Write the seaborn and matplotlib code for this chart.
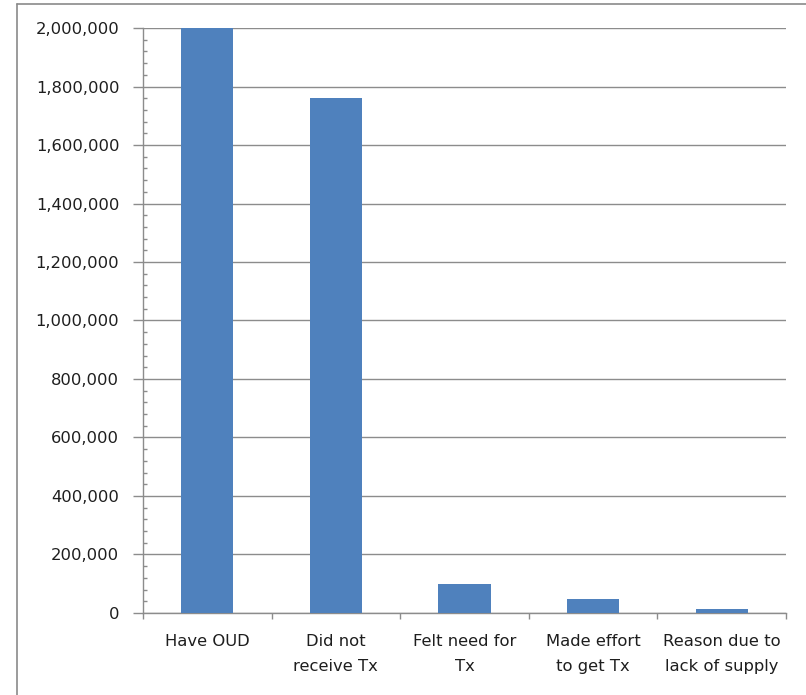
import matplotlib
matplotlib.use("Agg")
import matplotlib.pyplot as plt
from matplotlib.ticker import FuncFormatter, MultipleLocator
from matplotlib.lines import Line2D
import seaborn as sns
import pandas as pd

categories = ["Have OUD", "Did not\nreceive Tx", "Felt need for\nTx",
              "Made effort\nto get Tx", "Reason due to\nlack of supply"]
counts = [2000000, 1762000, 99000, 48000, 14000]

df = pd.DataFrame({"stage": categories, "people": counts})

sns.set_style("white")
plt.rcParams["font.family"] = ["DejaVu Sans"]

fig = plt.figure(figsize=(8.06, 6.95), dpi=100)
ax = fig.add_axes([0.1774, 0.118, 0.9752 - 0.1774, 0.9597 - 0.118])

sns.barplot(data=df, x="stage", y="people", color="#4F81BD", width=0.405,
            saturation=1, linewidth=0, ax=ax, zorder=3)

grid_c = "#8C8C8C"
text_c = "#1E1E1E"
ax.set_ylim(0, 2000000)
ax.set_xlim(-0.5, len(categories) - 0.5)
ax.yaxis.set_major_locator(MultipleLocator(200000))
ax.yaxis.set_minor_locator(MultipleLocator(40000))
ax.yaxis.set_major_formatter(FuncFormatter(lambda v, p: f"{int(v):,}"))
ax.yaxis.grid(True, which="major", color=grid_c, linewidth=1.0, zorder=0)
ax.set_axisbelow(True)

for s in ["top", "right"]:
    ax.spines[s].set_visible(False)
for s in ["left", "bottom"]:
    ax.spines[s].set_color(grid_c)
    ax.spines[s].set_linewidth(1.0)

ax.tick_params(axis="y", which="major", direction="out", length=7, width=1,
               color=grid_c, labelsize=11.8, labelcolor=text_c, pad=10, left=True)
ax.tick_params(axis="y", which="minor", direction="in", length=3, width=1,
               color=grid_c, left=True)

# category separator ticks on the x axis
ax.set_xticks(range(len(categories)))
ax.set_xticklabels(categories, linespacing=1.85)
ax.set_xticks([i - 0.5 for i in range(len(categories) + 1)], minor=True)
ax.tick_params(axis="x", which="major", length=0, labelsize=11.8,
               labelcolor=text_c, pad=15)
ax.tick_params(axis="x", which="minor", direction="out", length=4.3, width=1,
               color=grid_c, bottom=True)
ax.set_xlabel("")
ax.set_ylabel("")

# chart-area frame along the left and top edges
fig.add_artist(Line2D([0.021, 0.021], [0.0, 0.994], transform=fig.transFigure,
                      color="#8A8A8A", linewidth=1.2))
fig.add_artist(Line2D([0.021, 1.0], [0.994, 0.994], transform=fig.transFigure,
                      color="#8A8A8A", linewidth=1.2))

fig.savefig("out.png", dpi=100)
